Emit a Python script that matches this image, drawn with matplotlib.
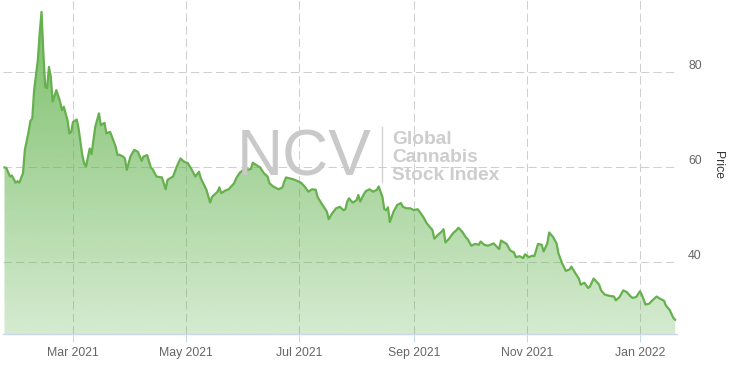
import numpy as np
import pandas as pd
import matplotlib
matplotlib.use("Agg")
import matplotlib.pyplot as plt
import matplotlib.dates as mdates
from matplotlib.lines import Line2D

# ---- data (day offsets from 2021-01-01, index price) ----
days = [22, 23, 25, 26, 28, 29, 30, 32, 33, 35,
        36, 37, 38, 40, 41, 42, 43, 44, 45, 46,
        47, 48, 50, 52, 53, 54, 56, 57, 58, 59,
        61, 62, 64, 65, 66, 68, 69, 71, 72, 73,
        74, 76, 77, 79, 80, 82, 83, 84, 86, 87,
        88, 90, 92, 94, 96, 97, 99, 101, 102, 104,
        107, 109, 110, 113, 115, 117, 119, 121, 123, 125,
        127, 128, 131, 133, 134, 137, 138, 139, 141, 143,
        146, 147, 149, 151, 152, 153, 155, 156, 158, 160,
        162, 164, 165, 167, 170, 172, 173, 174, 176, 178,
        181, 182, 184, 186, 188, 190, 191, 193, 196, 197,
        199, 201, 203, 205, 206, 207, 208, 209, 210, 212,
        213, 214, 216, 217, 219, 221, 223, 224, 226, 227,
        228, 229, 230, 232, 234, 236, 237, 239, 241, 243,
        245, 246, 248, 250, 253, 254, 256, 258, 259, 260,
        262, 264, 266, 267, 269, 271, 272, 274, 276, 278,
        279, 281, 283, 286, 289, 290, 293, 295, 297, 298,
        300, 302, 303, 305, 307, 308, 310, 312, 313, 315,
        316, 318, 320, 321, 323, 325, 327, 328, 330, 332,
        333, 335, 337, 338, 340, 343, 344, 346, 349, 351,
        352, 354, 356, 358, 360, 361, 363, 365, 366, 368,
        370, 372, 374, 376, 378, 379, 381, 383, 384]

prices = [59.9, 59.8, 58.0, 58.2, 56.7, 57.0, 56.7, 58.7, 63.6, 67.4,
          69.7, 70.2, 76.2, 82.5, 88.2, 92.7, 83.9, 76.9, 76.6, 81.1,
          79.0, 73.8, 76.2, 73.8, 72.0, 72.7, 69.9, 67.1, 67.4, 69.5,
          70.0, 68.1, 62.5, 60.8, 60.1, 63.9, 62.7, 68.5, 69.9, 71.3,
          68.8, 69.3, 67.1, 67.4, 66.4, 64.3, 62.5, 62.6, 62.2, 61.8,
          59.4, 62.2, 63.6, 63.2, 61.3, 62.2, 62.5, 59.9, 59.5, 58.0,
          57.8, 55.3, 57.3, 58.0, 60.1, 61.8, 61.1, 60.8, 59.5, 58.0,
          59.0, 57.6, 55.2, 52.5, 53.7, 54.8, 55.7, 54.5, 55.0, 55.3,
          56.6, 57.6, 58.8, 59.4, 60.2, 59.4, 59.6, 60.9, 60.4, 59.9,
          58.7, 58.0, 56.6, 55.9, 55.3, 55.7, 56.9, 57.8, 57.6, 57.4,
          56.9, 56.7, 55.9, 54.8, 55.3, 55.2, 53.7, 52.4, 50.6, 49.0,
          50.3, 51.3, 51.6, 50.9, 51.1, 52.7, 53.4, 52.9, 52.5, 53.0,
          54.1, 52.7, 54.3, 54.9, 55.3, 54.8, 55.2, 55.9, 53.7, 51.1,
          50.9, 51.5, 48.4, 50.6, 52.0, 52.4, 51.6, 51.3, 51.3, 50.9,
          51.1, 50.6, 49.5, 48.1, 46.7, 44.9, 45.7, 46.4, 46.9, 44.1,
          44.9, 46.0, 46.7, 47.2, 46.4, 45.2, 44.8, 43.4, 43.8, 43.6,
          44.3, 43.6, 43.4, 43.9, 42.7, 44.5, 43.8, 42.4, 42.0, 41.0,
          41.2, 40.8, 41.6, 41.0, 41.3, 41.2, 43.8, 43.6, 42.2, 43.9,
          46.2, 45.3, 43.9, 41.8, 39.7, 38.1, 38.4, 39.0, 37.7, 36.5,
          35.2, 35.6, 34.5, 34.8, 36.5, 35.2, 34.0, 33.1, 32.8, 32.7,
          31.9, 32.6, 34.0, 33.6, 32.7, 32.4, 32.6, 33.8, 33.1, 31.0,
          31.2, 32.0, 32.7, 32.2, 31.8, 30.8, 29.9, 28.2, 27.8]

y_ticks = [40, 60, 80]
y_label = "Price"
watermark_big = "NCV"
watermark_lines = ["Global", "Cannabis", "Stock Index"]

plt.rcParams["font.family"] = ["Liberation Sans", "DejaVu Sans"]

W, H = 734, 365
fig = plt.figure(figsize=(W / 100, H / 100), dpi=100)
fig.patch.set_facecolor("white")

def px(x, y):
    return x / W, 1 - y / H

ax = fig.add_axes([3 / W, 31 / H, 674 / W, 334 / H])
ax.set_facecolor("white")

base = pd.Timestamp("2021-01-01")
dates = base + pd.to_timedelta(days, unit="D")
xv = mdates.date2num(dates)
x0 = mdates.date2num(base) + 21.2
x1 = mdates.date2num(base) + 385.0
y0, y1 = 24.8, 95.2

# watermark (behind the series)
fig.text(*px(237, 176), watermark_big, fontsize=46, color="#c9c9c9",
         ha="left", va="baseline", zorder=0)
fig.add_artist(Line2D([382 / W, 382 / W], [1 - 127 / H, 1 - 182 / H],
                      transform=fig.transFigure, color="#d2d2d2", lw=1.0, zorder=0))
for txt, yb in zip(watermark_lines, [144.5, 162.5, 180.5]):
    fig.text(*px(392, yb), txt, fontsize=13.8, fontweight="bold", color="#cdcdcd",
             ha="left", va="baseline", zorder=0)
ax.patch.set_alpha(0)

# gridlines
ax.set_yticks(y_ticks)
ax.xaxis.set_major_locator(mdates.MonthLocator(bymonth=[1, 3, 5, 7, 9, 11]))
ax.xaxis.set_major_formatter(mdates.DateFormatter("%b %Y"))
ax.grid(True, color="#cfcfcf", lw=0.75, linestyle=(0, (8, 4)), zorder=0.5)
ax.set_axisbelow(True)

# gradient fill
poly = ax.fill_between(xv, prices, y0, facecolor="none", edgecolor="none")
n = 256
grad = np.zeros((n, 1, 4))
grad[..., 0] = 100 / 255
grad[..., 1] = 180 / 255
grad[..., 2] = 80 / 255
grad[..., 3] = np.linspace(0.27, 0.88, n)[:, None]
im = ax.imshow(grad, extent=[x0, x1, y0, y1], origin="lower", aspect="auto",
               zorder=1, interpolation="bilinear")
im.set_clip_path(poly.get_paths()[0], transform=ax.transData)

ax.plot(xv, prices, color="#66b04e", lw=1.6, zorder=2, solid_joinstyle="round")

ax.set_xlim(x0, x1)
ax.set_ylim(y0, y1)

for s in ["top", "left", "right"]:
    ax.spines[s].set_visible(False)
ax.spines["bottom"].set_color("#ccd6eb")
ax.spines["bottom"].set_linewidth(1.0)

ax.tick_params(axis="x", direction="out", length=5.8, width=0.75, color="#ccd6eb",
               labelsize=8.8, labelcolor="#666666", pad=3.5)
ax.yaxis.tick_right()
ax.tick_params(axis="y", length=0, labelsize=8.8, labelcolor="#666666", pad=8)
for lbl in ax.get_yticklabels():
    lbl.set_verticalalignment("bottom")

fig.text(*px(718, 165), y_label, rotation=270, ha="center", va="center",
         fontsize=8.8, color="#333333")

fig.savefig("out.png", dpi=100)
